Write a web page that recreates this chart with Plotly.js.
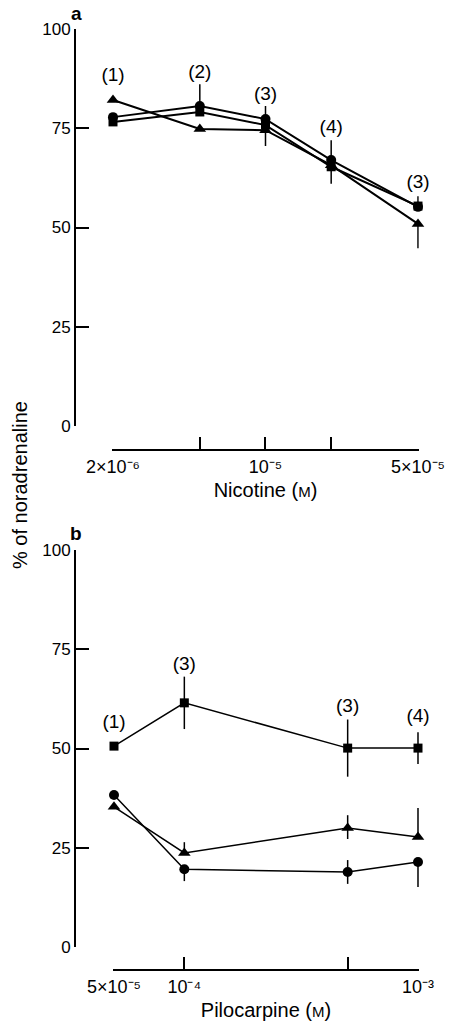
<!DOCTYPE html>
<html>
<head>
<meta charset="utf-8">
<script src="https://cdn.plot.ly/plotly-3.0.1.min.js"></script>
<style>html,body{margin:0;padding:0;background:#fff;}#chart{width:458px;height:1025px;}</style>
</head>
<body>
<div id="chart"></div>
<script>
// ---- Panel a: Nicotine ----
const nicotine = [2e-6, 5e-6, 1e-5, 2e-5, 5e-5];
const nicLabelled = [2e-6, 1e-5, 5e-5];
const nicTickText = ['2×10⁻⁶', '10⁻⁵', '5×10⁻⁵'];
const nicUnlabelled = [5e-6, 2e-5];
const nicCircle = [77.8, 80.6, 77.3, 67.0, 55.2];
const nicCirclePlus = [0, 5.5, 3.3, 5.0, 2.7];
const nicSquare = [76.6, 79.1, 75.8, 65.3, 55.4];
const nicSquareMinus = [0, 0, 5.3, 4.3, 0];
const nicTriangle = [82.1, 74.8, 74.5, 65.7, 50.9];
const nicTriangleMinus = [0, 0, 0, 0, 6.1];
const nicN = ['(1)', '(2)', '(3)', '(4)', '(3)'];
const nicNLevel = [88.0, 88.9, 83.4, 75.1, 61.2];

// ---- Panel b: Pilocarpine ----
const pilo = [5e-5, 1e-4, 5e-4, 1e-3];
const piloLabelled = [5e-5, 1e-4, 1e-3];
const piloTickText = ['5×10⁻⁵', '10⁻⁴', '10⁻³'];
const piloUnlabelled = [5e-4];
const piloSquare = [50.6, 61.5, 50.1, 50.1];
const piloSquareErr = [0, 6.6, 7.2, 4.0];
const piloCircle = [38.3, 19.6, 18.9, 21.4];
const piloCirclePlus = [0, 0, 3.0, 0];
const piloCircleMinus = [0, 3.0, 3.0, 6.3];
const piloTriangle = [35.3, 23.7, 30.0, 27.7];
const piloTrianglePlus = [0, 2.7, 3.2, 7.3];
const piloTriangleMinus = [0, 0, 2.8, 0];
const piloN = ['(1)', '(3)', '(3)', '(4)'];
const piloNLevel = [56.4, 71.0, 60.5, 57.9];

const yTicks = [0, 25, 50, 75, 100];

const W = 458, H = 1025;
const px = v => v / W;
const py = v => 1 - v / H;
const zeros = n => new Array(n).fill(0);
const FONT = 'Liberation Sans, Arial, sans-serif';
const EPS = 0.004; // tiny range padding (decades) so edge markers are not hidden

function series(x, y, sym, size, lw, xa, ya, plus, minus) {
  const t = {
    x: x, y: y, xaxis: xa, yaxis: ya, type: 'scatter', mode: 'lines+markers',
    cliponaxis: false, showlegend: false,
    line: {color: '#000', width: lw},
    marker: {symbol: sym, size: size, color: '#000'}
  };
  if (plus || minus) {
    t.error_y = {type: 'data', symmetric: false,
      array: plus || zeros(x.length), arrayminus: minus || zeros(x.length),
      color: '#000', thickness: 1.5, width: 0};
  }
  return t;
}
function nLabels(x, y, txt, xa, ya) {
  return {x: x, y: y, text: txt, xaxis: xa, yaxis: ya, type: 'scatter', mode: 'text',
    textposition: 'middle center', cliponaxis: false, showlegend: false, hoverinfo: 'skip',
    textfont: {size: 19, color: '#000', family: FONT}};
}

const data = [
  series(nicotine, nicTriangle, 'triangle-up', 11, 2, 'x', 'y', null, nicTriangleMinus),
  series(nicotine, nicSquare, 'square', 9, 2, 'x', 'y', null, nicSquareMinus),
  series(nicotine, nicCircle, 'circle', 10, 2, 'x', 'y', nicCirclePlus, null),
  nLabels(nicotine, nicNLevel, nicN, 'x', 'y'),
  series(pilo, piloSquare, 'square', 9, 1.5, 'x2', 'y2', piloSquareErr, piloSquareErr),
  series(pilo, piloTriangle, 'triangle-up', 11, 1.5, 'x2', 'y2', piloTrianglePlus, piloTriangleMinus),
  series(pilo, piloCircle, 'circle', 10, 1.5, 'x2', 'y2', piloCirclePlus, piloCircleMinus),
  nLabels(pilo, piloNLevel, piloN, 'x2', 'y2')
];

const annotations = [
  {xref: 'paper', yref: 'paper', x: px(76), y: py(13), xanchor: 'center', yanchor: 'middle',
    text: '<b>a</b>', showarrow: false, font: {size: 19, color: '#000', family: FONT}},
  {xref: 'paper', yref: 'paper', x: px(76), y: py(533), xanchor: 'center', yanchor: 'middle',
    text: '<b>b</b>', showarrow: false, font: {size: 19, color: '#000', family: FONT}},
  {xref: 'paper', yref: 'paper', x: px(20), y: py(485), xanchor: 'center', yanchor: 'middle',
    text: '% of noradrenaline', textangle: -90, showarrow: false,
    font: {size: 20, color: '#000', family: FONT}}
];

function yAxis(d0, d1) {
  return {
    domain: [py(d0), py(d1)], range: [0, 100], anchor: 'free', position: px(75),
    showline: true, linewidth: 2, linecolor: '#000', ticks: 'inside', ticklen: 13,
    tickwidth: 2, tickcolor: '#000', tickmode: 'array', tickvals: yTicks,
    showgrid: false, zeroline: false, tickfont: {size: 17, color: '#000', family: FONT}
  };
}
function xAxis(x0, x1, vals, labelled, txt, unlabelled, pos, title) {
  const r0 = Math.log10(vals[0]) - EPS, r1 = Math.log10(vals[vals.length - 1]) + EPS;
  const spanPx = x1 - x0, spanL = r1 - r0 - 2 * EPS;
  const pad = EPS / spanL * spanPx;
  return {
    type: 'log', domain: [px(x0 - pad), px(x1 + pad)], range: [r0, r1], anchor: 'free', position: py(pos),
    showline: true, linewidth: 2, linecolor: '#000', ticks: 'inside', ticklen: 12,
    tickwidth: 2, tickcolor: '#000', tickmode: 'array', tickvals: labelled, ticktext: txt,
    minor: {tickmode: 'array', tickvals: unlabelled, ticks: 'inside', ticklen: 12, tickwidth: 2,
      tickcolor: '#000', showgrid: false},
    showgrid: false, zeroline: false, tickfont: {size: 18, color: '#000', family: FONT},
    title: {text: title, font: {size: 20, color: '#000', family: FONT}, standoff: 6}
  };
}

const layout = {
  width: W, height: H, margin: {l: 0, r: 0, t: 0, b: 0},
  paper_bgcolor: '#fff', plot_bgcolor: 'rgba(0,0,0,0)',
  font: {family: FONT, color: '#000'},
  showlegend: false,
  xaxis: xAxis(113, 418, nicotine, nicLabelled, nicTickText, nicUnlabelled, 450,
    'Nicotine (<span style="font-size:15px">M</span>)'),
  yaxis: yAxis(426, 29),
  xaxis2: xAxis(114, 418, pilo, piloLabelled, piloTickText, piloUnlabelled, 970,
    'Pilocarpine (<span style="font-size:15px">M</span>)'),
  yaxis2: yAxis(947, 550),
  annotations: annotations
};

Plotly.newPlot('chart', data, layout, {displayModeBar: false});
</script>
</body>
</html>
